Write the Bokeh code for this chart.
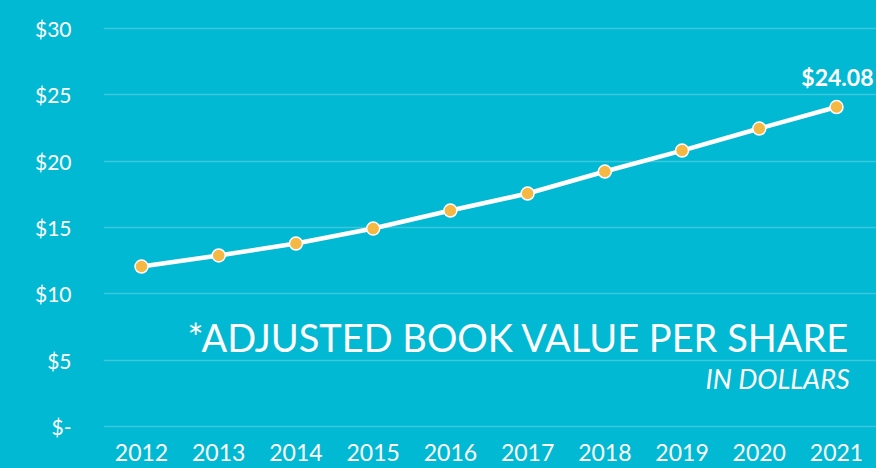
from bokeh.plotting import figure
from bokeh.models import Range1d, FixedTicker, Label, ColumnDataSource
from bokeh.core.properties import value
from bokeh.embed import file_html
from bokeh.resources import INLINE

years = [2012, 2013, 2014, 2015, 2016, 2017, 2018, 2019, 2020, 2021]
book_value = [12.06, 12.89, 13.79, 14.92, 16.28, 17.56, 19.22, 20.80, 22.46, 24.08]
y_ticks = [0, 5, 10, 15, 20, 25, 30]
y_tick_labels = ["$-", "$5", "$10", "$15", "$20", "$25", "$30"]
title_text = "*ADJUSTED BOOK VALUE PER SHARE"
subtitle_text = "IN DOLLARS"

BG = "#02B9D4"
MARKER = "#F4B843"
FONT = "Lato"

p = figure(width=876, height=468, output_backend="svg", toolbar_location=None,
           x_range=Range1d(2011.508, 2021.518), y_range=Range1d(-0.15, 30.15),
           min_border_left=103, min_border_right=0, min_border_top=26, min_border_bottom=40)
p.background_fill_color = BG
p.border_fill_color = BG
p.outline_line_color = None
p.styles = {"background-color": BG}

p.xgrid.grid_line_color = None
p.ygrid.grid_line_color = "white"
p.ygrid.grid_line_alpha = 0.22
p.ygrid.grid_line_width = 1.5

p.yaxis.ticker = FixedTicker(ticks=y_ticks)
p.yaxis.major_label_overrides = {t: l for t, l in zip(y_ticks, y_tick_labels)}
p.xaxis.ticker = FixedTicker(ticks=years)
p.xaxis.major_label_overrides = {y: str(y) for y in years}
for ax in (p.xaxis, p.yaxis):
    ax.axis_line_color = None
    ax.major_tick_line_color = None
    ax.minor_tick_line_color = None
    ax.major_tick_out = 0
    ax.major_tick_in = 0
    ax.major_label_text_color = "white"
    ax.major_label_text_font = FONT
p.yaxis.major_label_text_font_size = "21px"
p.xaxis.major_label_text_font_size = "23px"
p.yaxis.major_label_standoff = 32
p.xaxis.major_label_standoff = 15

src = ColumnDataSource(dict(x=years, y=book_value))
p.line("x", "y", source=src, line_color="white", line_width=4.5)
p.scatter("x", "y", source=src, size=13, fill_color=MARKER, line_color="white", line_width=1.5)

last = ColumnDataSource(dict(x=[years[-1]], y=[book_value[-1]], t=[f"${book_value[-1]:.2f}"]))
p.text("x", "y", text="t", source=last, text_color="white", text_font=value(FONT),
       text_font_style="bold", text_font_size="23px", text_align="right",
       text_baseline="middle", x_offset=37, y_offset=-30)

p.add_layout(Label(x=2021.17, y=6.78, text=title_text, text_color="white", text_font=FONT,
                   text_font_size="38px", text_align="right", text_baseline="middle"))
p.add_layout(Label(x=2021.17, y=3.65, text=subtitle_text, text_color="white", text_font=FONT,
                   text_font_style="italic", text_font_size="27px", text_align="right",
                   text_baseline="middle"))

open("out.html", "w").write(file_html(p, INLINE))
